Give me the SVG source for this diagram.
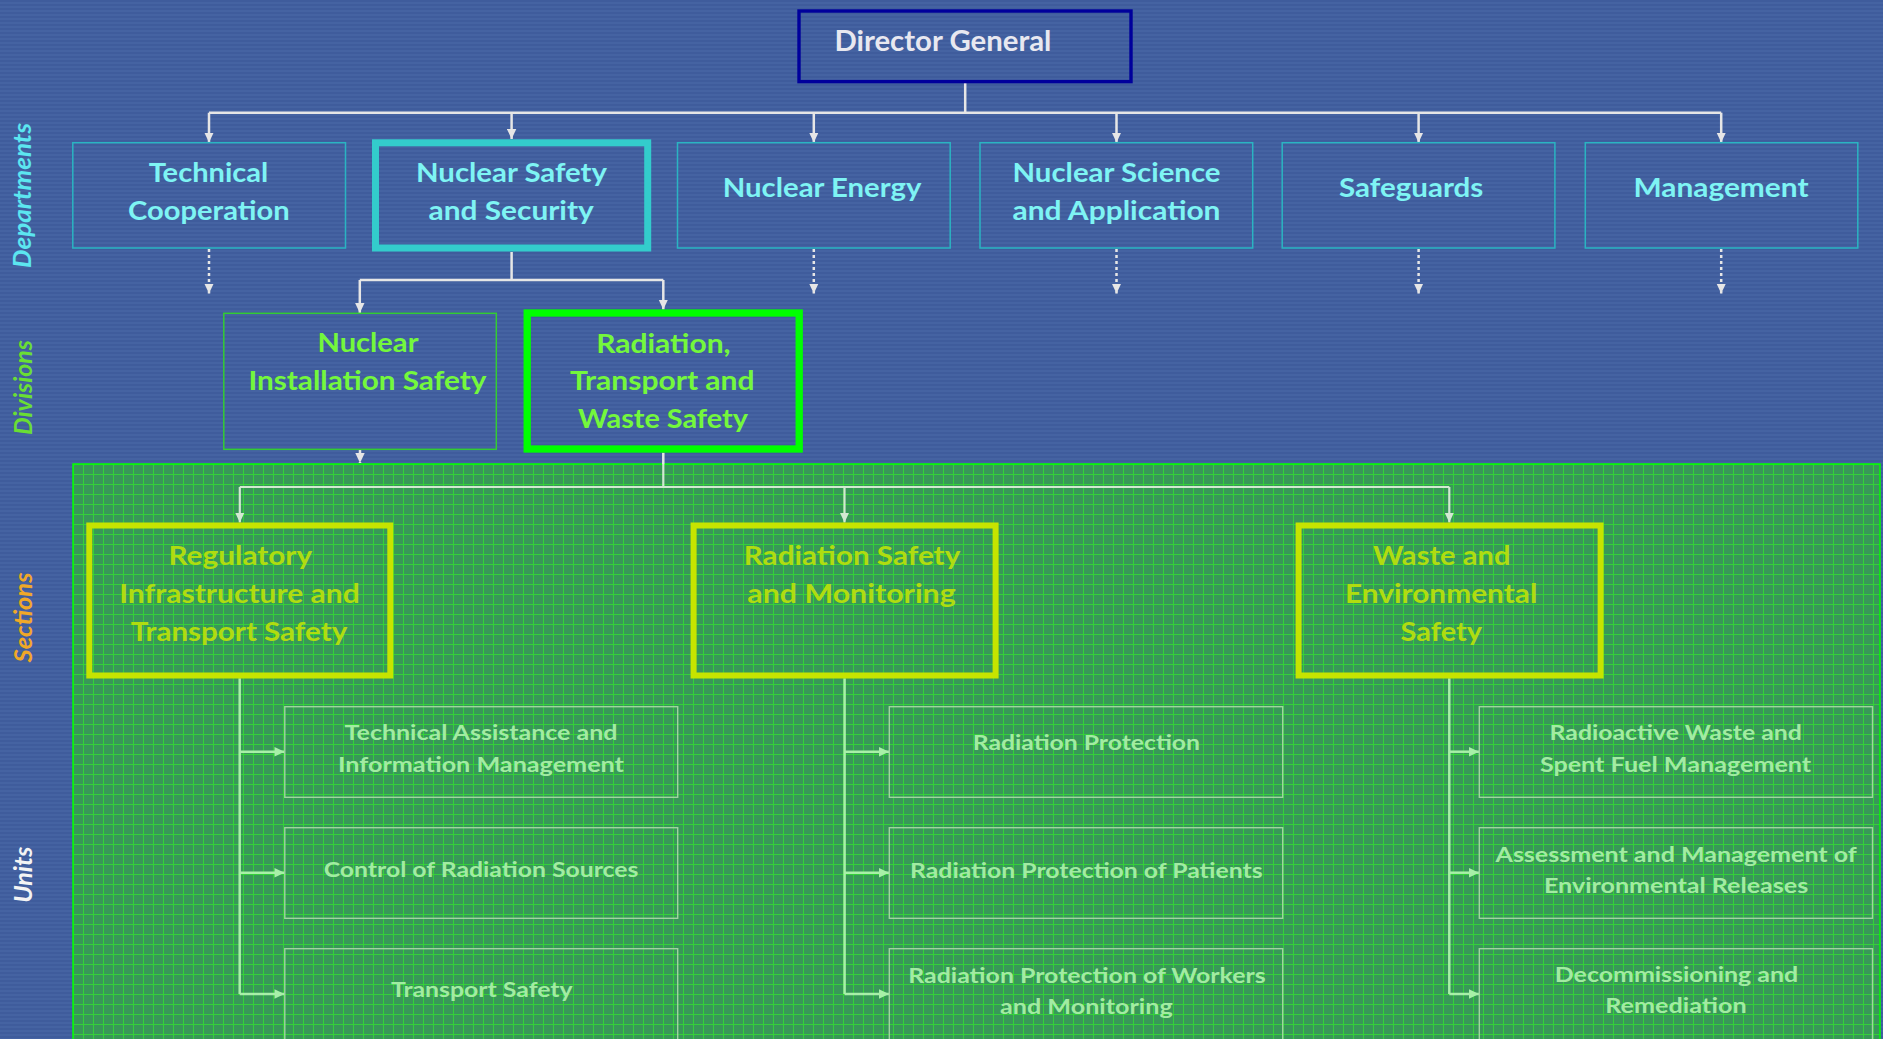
<svg xmlns="http://www.w3.org/2000/svg" width="1883" height="1039" viewBox="0 0 1883 1039">
<style>
  .t { font-family: Lato, "Open Sans", "Liberation Sans", sans-serif; font-weight: bold; }
  .dept { font-size: 27px; fill: #7ef4f4; }
  .div { font-size: 27px; fill: #74f83c; }
  .sec { font-size: 26px; fill: #b0dc10; }
  .unit { font-size: 21px; fill: #a2eca2; }
  .dg { font-size: 28px; fill: #e8e8f0; }
  .lab { font-family: Lato, "Open Sans", "Liberation Sans", sans-serif; font-weight: bold; font-style: italic; font-size: 24px; text-anchor: middle; }
  .deptBox { fill: none; stroke: #2ab4c2; stroke-width: 1.5; }
  .unitBox { fill: none; stroke: #a0d4a0; stroke-width: 1.4; }
  .secBox { fill: none; stroke: #c6e400; stroke-width: 6; }
  .c1 { fill: none; stroke: #e6e6e6; stroke-width: 2.5; }
  .c1d { fill: none; stroke: #e6e6e6; stroke-width: 2.5; stroke-dasharray: 3 3; }
  .c2 { fill: none; stroke: #d2e8d2; stroke-width: 2.2; }
  .c3 { fill: none; stroke: #a8f0a8; stroke-width: 2.5; }
</style>
<defs>
  <pattern id="stripes" patternUnits="userSpaceOnUse" x="0" y="0" width="8" height="4">
    <rect width="8" height="4" fill="#3f5c9c"/>
    <rect y="2" width="8" height="2" fill="#4563a2"/>
  </pattern>
  <pattern id="grid" patternUnits="userSpaceOnUse" x="73" y="464" width="10" height="10">
    <rect width="10" height="10" fill="#389858"/>
    <rect x="0" y="0" width="10" height="1" fill="#34d03a"/>
    <rect x="0" y="0" width="1" height="10" fill="#34d03a"/>
  </pattern>
  <marker id="aw" viewBox="0 0 10 10" refX="10" refY="5" markerUnits="userSpaceOnUse" markerWidth="10" markerHeight="10" orient="auto">
    <path d="M0,0.3 L10,5 L0,9.7 z" fill="#e6e6e6"/>
  </marker>
  <marker id="ag" viewBox="0 0 10 10" refX="10" refY="5" markerUnits="userSpaceOnUse" markerWidth="10" markerHeight="10" orient="auto">
    <path d="M0,0.3 L10,5 L0,9.7 z" fill="#d2e8d2"/>
  </marker>
  <marker id="au" viewBox="0 0 10 10" refX="10" refY="5" markerUnits="userSpaceOnUse" markerWidth="11" markerHeight="10" orient="auto">
    <path d="M0,0.3 L10,5 L0,9.7 z" fill="#a8f0a8"/>
  </marker>
</defs>

<!-- background -->
<rect x="0" y="0" width="1883" height="1039" fill="url(#stripes)"/>
<rect x="73" y="464" width="1807" height="580" fill="url(#grid)" stroke="#00ff00" stroke-width="1.5"/>

<!-- level labels -->
<g id="levelLabels">
  <text class="lab" transform="translate(31,195.5) rotate(-90)" fill="#5ce6f0" textLength="145" lengthAdjust="spacingAndGlyphs">Departments</text>
  <text class="lab" transform="translate(32,387.5) rotate(-90)" fill="#6ade34" textLength="95" lengthAdjust="spacingAndGlyphs">Divisions</text>
  <text class="lab" transform="translate(32,617.5) rotate(-90)" fill="#f0a828" textLength="90" lengthAdjust="spacingAndGlyphs">Sections</text>
  <text class="lab" transform="translate(32,874.7) rotate(-90)" fill="#f4f4f4" textLength="56" lengthAdjust="spacingAndGlyphs">Units</text>
</g>

<!-- connectors -->
<g id="connectors">
  <path class="c1" d="M965.2,83 V112.7 M209,112.7 H1721.2"/>
  <path class="c1" d="M209,112.7 V142.5" marker-end="url(#aw)"/>
  <path class="c1" d="M511.6,112.7 V139" marker-end="url(#aw)"/>
  <path class="c1" d="M813.8,112.7 V142.5" marker-end="url(#aw)"/>
  <path class="c1" d="M1116.5,112.7 V142.5" marker-end="url(#aw)"/>
  <path class="c1" d="M1418.6,112.7 V142.5" marker-end="url(#aw)"/>
  <path class="c1" d="M1721.2,112.7 V142.5" marker-end="url(#aw)"/>

  <path class="c1d" d="M209,249 V293.5" marker-end="url(#aw)"/>
  <path class="c1d" d="M813.8,249 V293.5" marker-end="url(#aw)"/>
  <path class="c1d" d="M1116.5,249 V293.5" marker-end="url(#aw)"/>
  <path class="c1d" d="M1418.6,249 V293.5" marker-end="url(#aw)"/>
  <path class="c1d" d="M1721.2,249 V293.5" marker-end="url(#aw)"/>

  <path class="c1" d="M511.6,252 V280 M359.8,280 H663.3"/>
  <path class="c1" d="M359.8,280 V313" marker-end="url(#aw)"/>
  <path class="c1" d="M663.3,280 V309.5" marker-end="url(#aw)"/>
  <path class="c1d" d="M360,450 V463" marker-end="url(#aw)"/>

  <path class="c1" d="M663.3,452.7 V464"/>
  <path class="c2" d="M663.3,464 V487 M239.8,487 H1449.3"/>
  <path class="c2" d="M239.8,487 V522.5" marker-end="url(#ag)"/>
  <path class="c2" d="M844.5,487 V522.5" marker-end="url(#ag)"/>
  <path class="c2" d="M1449.3,487 V522.5" marker-end="url(#ag)"/>

  <path class="c3" d="M239.7,678.3 V994"/>
  <path class="c3" d="M239.7,751.7 H284.5" marker-end="url(#au)"/>
  <path class="c3" d="M239.7,872.7 H284.5" marker-end="url(#au)"/>
  <path class="c3" d="M239.7,994 H284.5" marker-end="url(#au)"/>

  <path class="c3" d="M844.6,678.3 V994"/>
  <path class="c3" d="M844.6,751.7 H889" marker-end="url(#au)"/>
  <path class="c3" d="M844.6,872.7 H889" marker-end="url(#au)"/>
  <path class="c3" d="M844.6,994 H889" marker-end="url(#au)"/>

  <path class="c3" d="M1449.3,678.3 V994"/>
  <path class="c3" d="M1449.3,751.7 H1479" marker-end="url(#au)"/>
  <path class="c3" d="M1449.3,872.7 H1479" marker-end="url(#au)"/>
  <path class="c3" d="M1449.3,994 H1479" marker-end="url(#au)"/>
</g>

<!-- Director General -->
<g id="director-general">
  <rect x="799" y="11" width="332" height="70.6" fill="none" stroke="#00009c" stroke-width="3.4"/>
  <text class="t dg" x="834.4" y="50.7" textLength="217" lengthAdjust="spacingAndGlyphs">Director General</text>
</g>

<!-- Departments -->
<g id="dept-technical-cooperation">
  <rect class="deptBox" x="72.8" y="142.7" width="272.7" height="105.3"/>
  <text class="t dept" x="148.7" y="181.7" textLength="119.6" lengthAdjust="spacingAndGlyphs">Technical</text>
  <text class="t dept" x="128" y="220" textLength="161.6" lengthAdjust="spacingAndGlyphs">Cooperation</text>
</g>
<g id="dept-nuclear-safety-security">
  <rect x="375.5" y="142.8" width="272.2" height="105.2" fill="none" stroke="#33cccc" stroke-width="7"/>
  <text class="t dept" x="416" y="181.7" textLength="191" lengthAdjust="spacingAndGlyphs">Nuclear Safety</text>
  <text class="t dept" x="428.6" y="220" textLength="165.2" lengthAdjust="spacingAndGlyphs">and Security</text>
</g>
<g id="dept-nuclear-energy">
  <rect class="deptBox" x="677.5" y="142.7" width="272.7" height="105.3"/>
  <text class="t dept" x="722.8" y="196.7" textLength="198.6" lengthAdjust="spacingAndGlyphs">Nuclear Energy</text>
</g>
<g id="dept-nuclear-science-application">
  <rect class="deptBox" x="980" y="142.7" width="272.7" height="105.3"/>
  <text class="t dept" x="1012.5" y="181.7" textLength="208" lengthAdjust="spacingAndGlyphs">Nuclear Science</text>
  <text class="t dept" x="1012.5" y="220" textLength="208" lengthAdjust="spacingAndGlyphs">and Application</text>
</g>
<g id="dept-safeguards">
  <rect class="deptBox" x="1282.2" y="142.7" width="272.7" height="105.3"/>
  <text class="t dept" x="1339" y="196.7" textLength="144.3" lengthAdjust="spacingAndGlyphs">Safeguards</text>
</g>
<g id="dept-management">
  <rect class="deptBox" x="1585.3" y="142.7" width="272.5" height="105.3"/>
  <text class="t dept" x="1633.5" y="196.7" textLength="175" lengthAdjust="spacingAndGlyphs">Management</text>
</g>

<!-- Divisions -->
<g id="div-nuclear-installation-safety">
  <rect x="223.8" y="313.3" width="272.5" height="136" fill="none" stroke="#33cc33" stroke-width="1.5"/>
  <text class="t div" x="317.5" y="352.3" textLength="101" lengthAdjust="spacingAndGlyphs">Nuclear</text>
  <text class="t div" x="248.4" y="390" textLength="238" lengthAdjust="spacingAndGlyphs">Installation Safety</text>
</g>
<g id="div-radiation-transport-waste-safety">
  <rect x="527.2" y="313" width="272" height="136" fill="none" stroke="#00ff00" stroke-width="7.3"/>
  <text class="t div" x="596.2" y="352.7" textLength="134.4" lengthAdjust="spacingAndGlyphs">Radiation,</text>
  <text class="t div" x="570" y="390" textLength="184.6" lengthAdjust="spacingAndGlyphs">Transport and</text>
  <text class="t div" x="578" y="428.3" textLength="170" lengthAdjust="spacingAndGlyphs">Waste Safety</text>
</g>

<!-- Sections -->
<g id="sec-regulatory-infrastructure-transport">
  <rect class="secBox" x="89.3" y="525.5" width="301" height="150"/>
  <text class="t sec" x="168.4" y="565" textLength="143.8" lengthAdjust="spacingAndGlyphs">Regulatory</text>
  <text class="t sec" x="119.2" y="602.7" textLength="240.6" lengthAdjust="spacingAndGlyphs">Infrastructure and</text>
  <text class="t sec" x="130.8" y="640.8" textLength="216.5" lengthAdjust="spacingAndGlyphs">Transport Safety</text>
</g>
<g id="sec-radiation-safety-monitoring">
  <rect class="secBox" x="693.6" y="525.5" width="302" height="150"/>
  <text class="t sec" x="743.8" y="565" textLength="216.5" lengthAdjust="spacingAndGlyphs">Radiation Safety</text>
  <text class="t sec" x="747.3" y="602.7" textLength="208.5" lengthAdjust="spacingAndGlyphs">and Monitoring</text>
</g>
<g id="sec-waste-environmental-safety">
  <rect class="secBox" x="1298.6" y="525.5" width="302" height="150"/>
  <text class="t sec" x="1373.1" y="564.5" textLength="137.3" lengthAdjust="spacingAndGlyphs">Waste and</text>
  <text class="t sec" x="1344.9" y="602.7" textLength="192.5" lengthAdjust="spacingAndGlyphs">Environmental</text>
  <text class="t sec" x="1400.6" y="640.5" textLength="81.5" lengthAdjust="spacingAndGlyphs">Safety</text>
</g>

<!-- Units column 1 -->
<g id="unit-technical-assistance">
  <rect class="unitBox" x="284.8" y="706.7" width="392.9" height="90.6"/>
  <text class="t unit" x="344.6" y="740" textLength="272.8" lengthAdjust="spacingAndGlyphs">Technical Assistance and</text>
  <text class="t unit" x="338" y="771.7" textLength="286" lengthAdjust="spacingAndGlyphs">Information Management</text>
</g>
<g id="unit-control-radiation-sources">
  <rect class="unitBox" x="284.8" y="827.7" width="392.9" height="90.6"/>
  <text class="t unit" x="323.7" y="877.3" textLength="314.7" lengthAdjust="spacingAndGlyphs">Control of Radiation Sources</text>
</g>
<g id="unit-transport-safety">
  <rect class="unitBox" x="284.8" y="948.7" width="392.9" height="92"/>
  <text class="t unit" x="391" y="996.7" textLength="181.7" lengthAdjust="spacingAndGlyphs">Transport Safety</text>
</g>

<!-- Units column 2 -->
<g id="unit-radiation-protection">
  <rect class="unitBox" x="889.3" y="706.7" width="393.4" height="90.6"/>
  <text class="t unit" x="972.7" y="750" textLength="227.3" lengthAdjust="spacingAndGlyphs">Radiation Protection</text>
</g>
<g id="unit-radiation-protection-patients">
  <rect class="unitBox" x="889.3" y="827.7" width="393.4" height="90.6"/>
  <text class="t unit" x="910" y="878.3" textLength="352.7" lengthAdjust="spacingAndGlyphs">Radiation Protection of Patients</text>
</g>
<g id="unit-radiation-protection-workers">
  <rect class="unitBox" x="889.3" y="948.7" width="393.4" height="92"/>
  <text class="t unit" x="908.3" y="983.3" textLength="357.3" lengthAdjust="spacingAndGlyphs">Radiation Protection of Workers</text>
  <text class="t unit" x="1000" y="1014.3" textLength="172.7" lengthAdjust="spacingAndGlyphs">and Monitoring</text>
</g>

<!-- Units column 3 -->
<g id="unit-radioactive-waste-spent-fuel">
  <rect class="unitBox" x="1479.3" y="706.7" width="393.2" height="90.6"/>
  <text class="t unit" x="1549.6" y="740" textLength="252.3" lengthAdjust="spacingAndGlyphs">Radioactive Waste and</text>
  <text class="t unit" x="1539.9" y="771.7" textLength="271.3" lengthAdjust="spacingAndGlyphs">Spent Fuel Management</text>
</g>
<g id="unit-environmental-releases">
  <rect class="unitBox" x="1479.3" y="827.7" width="393.2" height="90.6"/>
  <text class="t unit" x="1495.5" y="861.7" textLength="361.3" lengthAdjust="spacingAndGlyphs">Assessment and Management of</text>
  <text class="t unit" x="1543.9" y="892.7" textLength="264.4" lengthAdjust="spacingAndGlyphs">Environmental Releases</text>
</g>
<g id="unit-decommissioning-remediation">
  <rect class="unitBox" x="1479.3" y="948.7" width="393.2" height="92"/>
  <text class="t unit" x="1554.8" y="981.7" textLength="243.4" lengthAdjust="spacingAndGlyphs">Decommissioning and</text>
  <text class="t unit" x="1605.3" y="1013.3" textLength="141.3" lengthAdjust="spacingAndGlyphs">Remediation</text>
</g>
</svg>
